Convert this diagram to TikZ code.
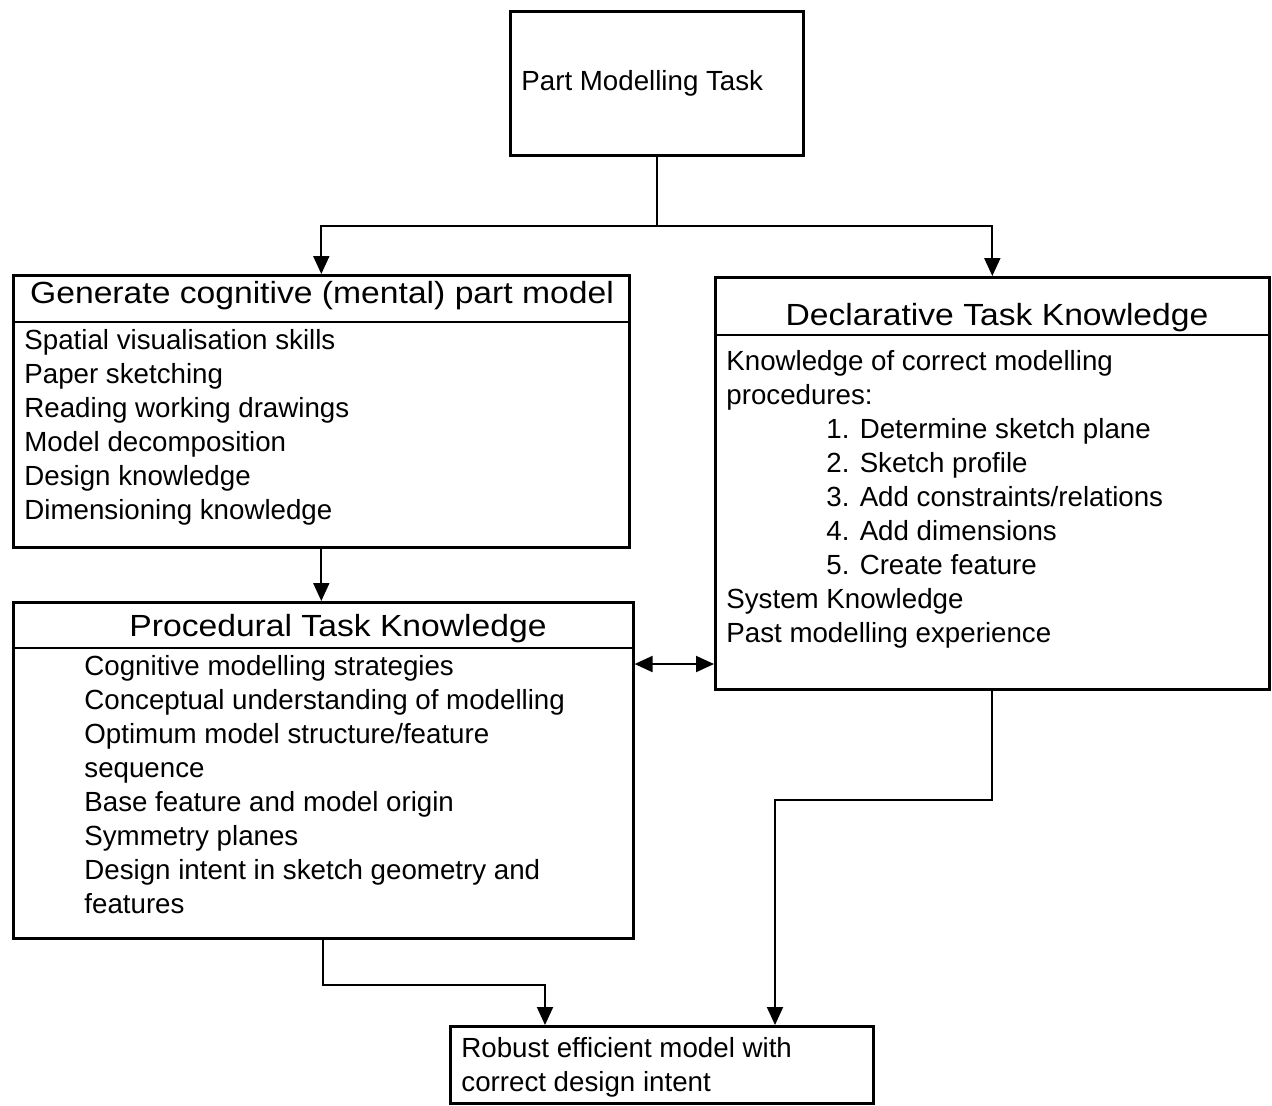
\documentclass[tikz,border=0pt]{standalone}
\usepackage{fontspec}
\setmainfont{Liberation Sans}
\newfontfamily\hdfont[FakeStretch=1.1]{Liberation Sans}
\usetikzlibrary{arrows.meta}
\begin{document}
\begin{tikzpicture}[x=0.5pt,y=-0.5pt,
  box/.style={draw, line width=1.3pt, anchor=north west, inner sep=0pt},
  conn/.style={line width=1pt},
  arr/.style={conn, -{Triangle[length=9pt,width=8pt]}},
  darr/.style={conn, {Triangle[length=9pt,width=8pt]}-{Triangle[length=9pt,width=8pt]}},
  txt/.style={anchor=base west, inner sep=0pt, font=\fontsize{13.85pt}{17pt}\selectfont},
  hd/.style={anchor=base, inner sep=0pt, font=\hdfont\fontsize{15.3pt}{18pt}\selectfont}]
\useasboundingbox (0,0) rectangle (1272,1105);

% boxes
\node[box, minimum width=146.5pt, minimum height=72pt] (T) at (509,10) {};
\node[box, minimum width=308pt, minimum height=136pt] (G) at (12,274) {};
\node[box, minimum width=310pt, minimum height=168pt] (P) at (12,601) {};
\node[box, minimum width=277pt, minimum height=206pt] (D) at (714,276) {};
\node[box, minimum width=211.5pt, minimum height=38.5pt] (R) at (449,1025) {};

% header dividers
\coordinate (gd) at (0,322);
\coordinate (pdv) at (0,648);
\coordinate (dd) at (0,335);
\draw[line width=1.3pt] (G.west |- gd) -- (G.east |- gd);
\draw[line width=1.3pt] (P.west |- pdv) -- (P.east |- pdv);
\draw[line width=1.3pt] (D.west |- dd) -- (D.east |- dd);

% texts
\node[txt] (tt) at (521,90) {Part Modelling Task};
\node[hd] (gh) at (322,303) {Generate cognitive (mental) part model};
\node[hd] (ph) at (338,636) {Procedural Task Knowledge};
\node[hd] (dh) at (997,325) {Declarative Task Knowledge};

\foreach \t [count=\i] in {Spatial visualisation skills, Paper sketching,
  Reading working drawings, Model decomposition, Design knowledge,
  Dimensioning knowledge}
  \node[txt] (g\i) at (24,{315+34*\i}) {\t};

\foreach \t [count=\i] in {Cognitive modelling strategies,
  Conceptual understanding of modelling, Optimum model structure/feature,
  sequence, Base feature and model origin, Symmetry planes,
  Design intent in sketch geometry and, features}
  \node[txt] (p\i) at (84,{641+34*\i}) {\t};

\node[txt] (d1) at (726,370) {Knowledge of correct modelling};
\node[txt] (d2) at (726,404) {procedures:};
\foreach \t [count=\i] in {1. Determine sketch plane, 2. Sketch profile,
  3. Add constraints/relations, 4. Add dimensions, 5. Create feature}
  \node[txt] (s\i) at (826,{404+34*\i}) {\t};
\node[txt] (d3) at (726,608) {System Knowledge};
\node[txt] (d4) at (726,642) {Past modelling experience};

\node[txt] (r1) at (461,1057) {Robust efficient model with};
\node[txt] (r2) at (461,1091) {correct design intent};

% connectors
\coordinate (split) at (655,226);
\draw[conn] (T.south) -- (T.south |- split);
\draw[arr] (T.south |- split) -| (G.north);
\draw[arr] (T.south |- split) -| (D.north);
\draw[arr] (G.south) -- (G.south |- P.north);
\coordinate (pd) at (0,664);
\draw[darr] (P.east |- pd) -- (D.west |- pd);
\coordinate (dr) at (775,800);
\draw[arr] (D.south) -- (D.south |- dr) -- (dr) -- (dr |- R.north);
\coordinate (pr) at (545,985);
\draw[arr] (P.south) -- (P.south |- pr) -- (pr) -- (pr |- R.north);
\end{tikzpicture}
\end{document}
